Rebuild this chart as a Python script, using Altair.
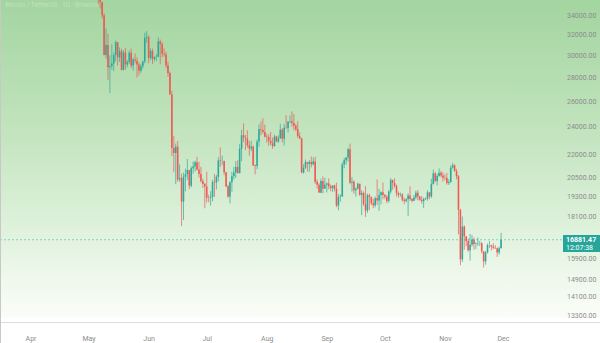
import altair as alt
import pandas as pd

# Daily candles, BTC/USDT (May 1 - Nov 30)
dates = pd.date_range("2022-05-01", "2022-11-30", freq="D").strftime("%Y-%m-%d").tolist()

opens = [
    37630, 38470, 38530, 37750, 39700, 36550, 36010, 35470, 34060, 30070,
    31020, 28940, 29050, 29280, 30080, 31300, 29860, 30420, 28700, 30300,
    29200, 29430, 30280, 29100, 29650, 29540, 29200, 28630, 29030, 29470, 31730,
    31800, 29800, 30450, 29700, 29860, 29900, 31370, 31130, 30200, 30110,
    29090, 28420, 26570, 22490, 22140, 22580, 20380, 20470, 19020, 20550,
    20720, 20990, 19990, 21110, 21230, 21500, 21030, 20740, 20280, 20100,
    19940, 19250, 19240, 19300, 20230, 20190, 20550, 21630, 21590, 21590,
    20850, 19960, 19330, 20210, 20580, 20830, 21190, 20790, 22430, 23400,
    23230, 23160, 22680, 22450, 22580, 21310, 21250, 22950, 23850, 23780, 23640,
    23300, 23270, 22990, 22820, 22620, 23310, 22950, 23170, 23810, 23150,
    23950, 23930, 24400, 24440, 24310, 24100, 23850, 23340, 23190, 20830,
    21140, 21520, 21400, 21530, 21370, 21560, 20240, 20040, 19550, 20280, 19800,
    20050, 20130, 19950, 19830, 20000, 19800, 18790, 19290, 19320, 21360,
    21650, 21830, 22400, 20170, 20230, 19700, 19800, 20110, 19420, 19540,
    18880, 18490, 19400, 19300, 18920, 18800, 19220, 19080, 19410, 19590,
    19420, 19310, 19060, 19630, 20340, 20160, 19960, 19530, 19420, 19440,
    19130, 19060, 19160, 19380, 19180, 19070, 19270, 19550, 19330, 19120,
    19040, 19170, 19200, 19570, 19330, 20090, 20770, 20290, 20600, 20820, 20630,
    20490, 20480, 20150, 20210, 21150, 21300, 20920, 20590, 18540, 15880,
    17590, 17070, 16810, 16330, 16620, 16900, 16660, 16690, 16700, 16700,
    16280, 15780, 16230, 16600, 16600, 16520, 16460, 16440, 16220, 16440,
]
highs = [
    38680, 39170, 38650, 40020, 39850, 36680, 36130, 35500, 34250, 32660,
    32160, 30030, 31080, 30320, 31460, 31330, 30790, 30670, 30540, 30760,
    29600, 30490, 30660, 29830, 30220, 29850, 29370, 29260, 29530, 32220, 32400,
    31980, 30690, 30680, 29950, 30160, 31770, 31560, 31330, 30700, 30380,
    29450, 28550, 26900, 23360, 22800, 22990, 21370, 20750, 20820, 21080,
    21720, 21000, 21230, 21560, 21610, 21870, 21540, 21200, 20430, 20150,
    20880, 19430, 19650, 20360, 20730, 20680, 21840, 22530, 21950, 21610,
    20870, 20040, 20260, 20880, 21200, 21580, 21650, 22780, 23800, 24280,
    23430, 23760, 22990, 23010, 22660, 21350, 23110, 24200, 24440, 24670, 24190,
    23510, 23470, 23650, 23230, 23450, 23350, 23400, 24250, 23930, 24230,
    24920, 24460, 24890, 25210, 25000, 24240, 24450, 23600, 23210, 21380,
    21690, 21530, 21650, 21900, 21820, 21880, 20400, 20150, 20430, 20580, 20490,
    20200, 20450, 20060, 20000, 20060, 20180, 19460, 19460, 21500, 21800,
    21860, 22490, 22800, 20540, 20330, 19890, 20190, 20110, 19690, 19630,
    19960, 19500, 19500, 19310, 19180, 19320, 20380, 19790, 19640, 20180,
    19480, 19400, 19720, 20480, 20370, 20460, 20060, 19620, 19560, 19530,
    19260, 19220, 19520, 19950, 19230, 19420, 19680, 19710, 19350, 19350,
    19250, 19260, 19700, 19600, 20420, 21020, 20870, 20750, 21090, 20930, 20840,
    20700, 20800, 20390, 21300, 21480, 21370, 21070, 20670, 18590, 18150,
    17660, 17070, 16950, 17190, 17130, 17000, 16750, 17000, 16820, 16750,
    16290, 16300, 16680, 16810, 16610, 16700, 16600, 16480, 16530, 17250,
]
lows = [
    37390, 38050, 37500, 37670, 35860, 35260, 34780, 33710, 30030, 29730,
    27790, 26700, 28720, 28600, 29480, 29090, 29440, 28650, 28660, 28730,
    28940, 29240, 28850, 28630, 29300, 28020, 28200, 28450, 28810, 29300, 31220,
    29300, 29590, 29250, 29480, 29510, 29880, 29220, 29850, 29920, 28860,
    28100, 26560, 21930, 20850, 20080, 20230, 20250, 17620, 17960, 19640,
    20350, 19770, 19890, 20750, 20900, 20960, 20500, 20180, 19850, 18630,
    18970, 18980, 18780, 19040, 19300, 19760, 20250, 21190, 21320, 20650,
    19900, 19240, 18910, 19620, 20380, 20480, 20770, 20770, 21580, 22900,
    22340, 22500, 21950, 22260, 21250, 20710, 21040, 22580, 23410, 23500, 23230,
    22850, 22650, 22680, 22430, 22590, 22920, 22840, 23150, 22880, 22660,
    23860, 23600, 24290, 24030, 23770, 23690, 23180, 23110, 20780, 20760,
    21060, 20890, 20880, 21160, 21310, 20110, 19810, 19600, 19540, 19520, 19800,
    19570, 19770, 19650, 19600, 19640, 18690, 18510, 19010, 19300, 21110,
    21350, 21550, 20080, 19620, 19500, 19320, 19760, 19370, 18230, 18750,
    18130, 18360, 18530, 18820, 18630, 18680, 18820, 18470, 18850, 19160,
    19160, 18920, 18960, 19500, 19730, 19860, 19320, 19250, 19320, 19020,
    18860, 18970, 18190, 19070, 18980, 19060, 19160, 19100, 19070, 18900,
    18650, 19110, 19070, 19160, 19240, 20060, 20200, 20000, 20560, 20510, 20250,
    20340, 20050, 20030, 20180, 21080, 20890, 20390, 17170, 15590, 15750,
    16360, 16550, 16260, 15820, 16530, 16360, 16400, 16550, 16560, 16170,
    15480, 15620, 16170, 16460, 16330, 16400, 16400, 16000, 16110, 16430,
]
closes = opens[1:] + [16881.47]

y_ticks = [13300, 14100, 14900, 15900, 18100, 19300, 20500, 22000,
           24000, 26000, 28000, 30000, 32000, 34000]
month_ticks = ["2022-04-01", "2022-05-01", "2022-06-01", "2022-07-01", "2022-08-01",
               "2022-09-01", "2022-10-01", "2022-11-01", "2022-12-01"]
last_price = [16881.47]
last_price_text = ["16881.47"]
countdown_text = ["12:07:38"]
legend_text = ["Bitcoin / TetherUS · 1D · Binance"]

df = pd.DataFrame({"date": dates, "open": opens, "high": highs, "low": lows, "close": closes})
df["dir"] = ["up" if c >= o else "down" for o, c in zip(df["open"], df["close"])]

W, H = 600, 322
x_scale = alt.Scale(domain=["2022-03-18T20:00:00", "2023-01-17T12:00:00"])
y_scale = alt.Scale(type="log", domain=[13055, 35710], nice=False, zero=False)

xenc = alt.X("date:T", scale=x_scale,
             axis=alt.Axis(values=month_ticks, format="%b", title=None, domain=False,
                           ticks=False, grid=False, labelFontSize=7, labelColor="#8c8c8c",
                           labelPadding=12, labelFont="Roboto"))
color = alt.Color("dir:N", scale=alt.Scale(domain=["up", "down"], range=["#26a69a", "#ef5350"]),
                  legend=None)

bg = alt.Chart(pd.DataFrame({"a": [0]})).mark_rect(
    color=alt.LinearGradient(
        gradient="linear", x1=0, y1=0, x2=0, y2=1,
        stops=[alt.GradientStop(color="#a3d5a0", offset=0),
               alt.GradientStop(color="#c1e3bd", offset=0.4),
               alt.GradientStop(color="#e2f3df", offset=0.75),
               alt.GradientStop(color="#fbfdf8", offset=1)])
).encode(x=alt.value(0), x2=alt.value(600), y=alt.value(0), y2=alt.value(318))

base = alt.Chart(df)
wicks = base.mark_rule(strokeWidth=0.8, clip=True, opacity=0.85).encode(
    x=xenc, y=alt.Y("low:Q", scale=y_scale, axis=None), y2="high:Q", color=color)
bodies = base.mark_bar(size=1.6, clip=True, opacity=0.9).encode(
    x=alt.X("date:T"), y=alt.Y("open:Q", scale=y_scale), y2="close:Q", color=color)

pdf = pd.DataFrame({"p": last_price, "t": last_price_text, "c": countdown_text})
pline = alt.Chart(pdf).mark_rule(strokeDash=[2, 2], strokeWidth=0.8, color="#26a69a",
                                 opacity=0.6).encode(
    y=alt.Y("p:Q", scale=y_scale), x=alt.value(0), x2=alt.value(563))
pbox = alt.Chart(pdf).mark_rect(color="#26a69a").encode(
    x=alt.value(563), x2=alt.value(600), y=alt.value(235), y2=alt.value(252))
ptext = alt.Chart(pdf).mark_text(align="left", baseline="middle", color="white", fontSize=7,
                                 fontWeight="bold", font="Roboto", dx=3).encode(
    x=alt.value(563), y=alt.Y("p:Q", scale=y_scale), text="t:N")
ctext = alt.Chart(pdf).mark_text(align="left", baseline="middle", color="white", fontSize=7,
                                 font="Roboto", dx=3, dy=8).encode(
    x=alt.value(563), y=alt.Y("p:Q", scale=y_scale), text="c:N")

ylabels = alt.Chart(pd.DataFrame({"v": y_ticks})).mark_text(
    align="left", baseline="middle", fontSize=7, color="#8c8c8c", font="Roboto"
).encode(x=alt.value(567), y=alt.Y("v:Q", scale=y_scale),
         text=alt.Text("v:Q", format=".2f"))

legend = alt.Chart(pd.DataFrame({"t": legend_text})).mark_text(
    align="left", baseline="top", fontSize=6.5, color="#c4dfc1", font="Roboto"
).encode(x=alt.value(5), y=alt.value(2), text="t:N")

border = alt.Chart(pd.DataFrame({"a": [0]})).mark_rule(color="#c8c8c8", strokeWidth=1).encode(
    x=alt.value(0.5), y=alt.value(0), y2=alt.value(343))

chart = alt.layer(bg, wicks, bodies, pline, pbox, ptext, ctext, ylabels, legend, border).properties(
    width=W, height=H,
    autosize=alt.AutoSizeParams(type="none"),
    padding={"left": 0, "right": 0, "top": 0, "bottom": 21},
).configure_view(stroke=None).configure(background="white")

chart.save("out.html", embed_options={"renderer": "svg", "actions": False})
